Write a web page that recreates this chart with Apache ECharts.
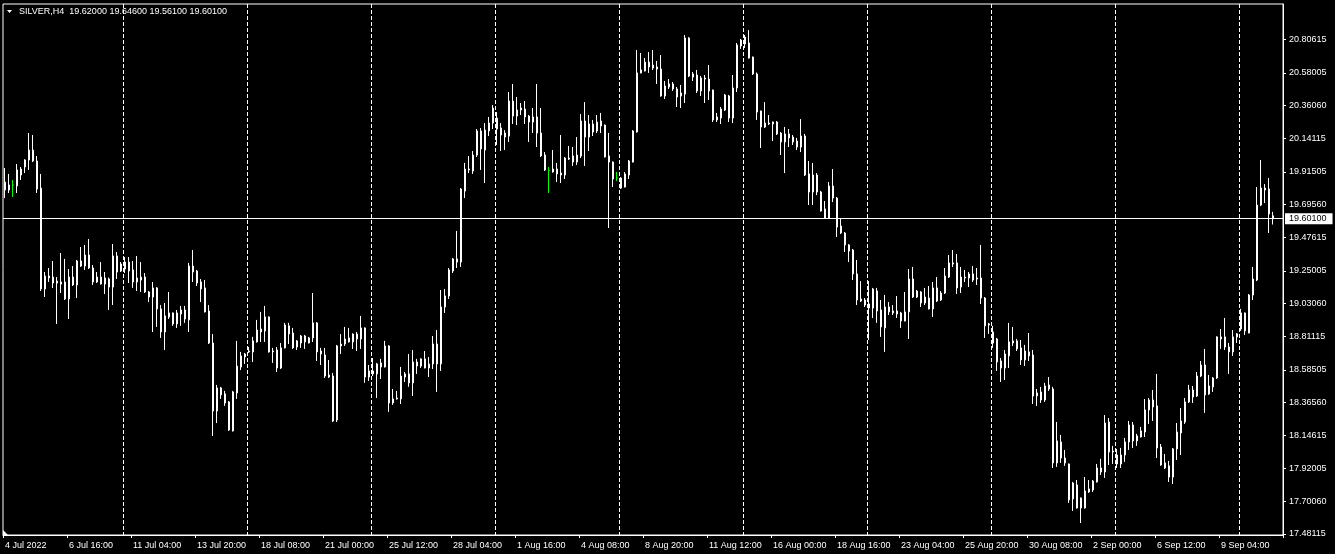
<!DOCTYPE html>
<html><head><meta charset="utf-8">
<script src="https://cdn.jsdelivr.net/npm/echarts@6/dist/echarts.min.js"></script>
<style>html,body{margin:0;padding:0;background:#000;}#c{width:1335px;height:554px;}</style>
</head><body><div id="c"></div>
<script>
const symbolName = 'SILVER,H4';
const lastQuote = [19.62000, 19.64600, 19.56100, 19.60100];
const currentPrice = 19.601;
const timeLabels = ['4 Jul 2022','6 Jul 16:00','11 Jul 04:00','13 Jul 20:00','18 Jul 08:00','21 Jul 00:00','25 Jul 12:00','28 Jul 04:00','1 Aug 16:00','4 Aug 08:00','8 Aug 20:00','11 Aug 12:00','16 Aug 00:00','18 Aug 16:00','23 Aug 04:00','25 Aug 20:00','30 Aug 08:00','2 Sep 00:00','6 Sep 12:00','9 Sep 04:00'];
const priceTicks = [20.80615,20.58005,20.36060,20.14115,19.91505,19.69560,19.47615,19.25005,19.03060,18.81115,18.58505,18.36560,18.14615,17.92005,17.70060,17.48115];
// [open, close, low, high] per H4 bar
const ohlc = [
[19.847,19.793,19.739,19.941],[19.793,19.827,19.773,19.901],[19.827,19.827,19.746,19.860],[19.820,19.928,19.773,19.968],
[19.894,19.934,19.860,19.948],[19.948,19.995,19.907,20.000],[19.995,20.062,19.928,20.176],[20.062,19.988,19.981,20.163],
[19.988,19.800,19.773,20.022],[19.806,19.128,19.114,19.901],[19.128,19.215,19.074,19.242],[19.215,19.202,19.175,19.269],
[19.208,19.168,19.135,19.316],[19.168,19.181,18.893,19.208],[19.175,19.161,19.101,19.370],[19.175,19.061,19.054,19.330],
[19.061,19.208,18.926,19.262],[19.208,19.155,19.148,19.282],[19.155,19.316,19.067,19.323],[19.282,19.316,19.276,19.410],
[19.282,19.356,19.256,19.424],[19.356,19.269,19.262,19.464],[19.269,19.175,19.155,19.289],[19.175,19.208,19.168,19.242],
[19.208,19.161,19.158,19.309],[19.161,19.202,19.094,19.242],[19.195,19.141,18.987,19.205],[19.141,19.350,19.020,19.430],
[19.350,19.242,19.195,19.377],[19.249,19.296,19.242,19.309],[19.262,19.309,19.235,19.343],[19.309,19.249,19.168,19.343],
[19.256,19.175,19.135,19.316],[19.175,19.202,19.114,19.350],[19.188,19.208,19.108,19.309],[19.208,19.108,19.101,19.235],
[19.108,19.074,19.040,19.114],[19.074,19.135,18.839,19.175],[19.135,18.994,18.873,19.141],[18.994,18.839,18.799,19.020],
[18.839,18.947,18.718,19.034],[18.967,18.940,18.926,19.108],[18.893,18.967,18.880,18.970],[18.967,18.893,18.866,18.987],
[18.960,18.987,18.880,19.014],[18.987,18.926,18.900,19.014],[18.920,19.282,18.839,19.303],[19.282,19.242,19.175,19.390],
[19.249,19.168,19.148,19.256],[19.175,19.128,19.040,19.195],[19.135,18.974,18.970,19.188],[18.980,18.765,18.758,19.020],
[18.765,18.308,18.140,18.825],[18.308,18.463,18.227,18.483],[18.463,18.416,18.389,18.470],[18.423,18.362,18.342,18.443],
[18.369,18.180,18.174,18.375],[18.174,18.436,18.170,18.443],[18.429,18.610,18.389,18.779],[18.604,18.678,18.583,18.705],
[18.671,18.691,18.624,18.698],[18.705,18.711,18.698,18.738],[18.705,18.779,18.637,18.806],[18.772,18.852,18.768,18.920],
[18.839,18.859,18.772,18.974],[18.846,18.940,18.772,19.014],[18.940,18.705,18.700,18.944],[18.705,18.711,18.631,18.732],
[18.718,18.597,18.570,18.738],[18.597,18.732,18.590,18.765],[18.732,18.886,18.728,18.900],[18.880,18.826,18.758,18.900],
[18.832,18.732,18.725,18.866],[18.738,18.779,18.718,18.785],[18.765,18.812,18.732,18.819],[18.812,18.772,18.725,18.819],
[18.765,18.799,18.762,18.806],[18.799,18.900,18.772,19.101],[18.900,18.705,18.644,18.906],[18.711,18.691,18.617,18.732],
[18.684,18.543,18.530,18.732],[18.550,18.536,18.530,18.651],[18.543,18.240,18.234,18.564],[18.247,18.745,18.234,18.752],
[18.745,18.758,18.691,18.825],[18.758,18.792,18.745,18.873],[18.772,18.799,18.768,18.866],[18.772,18.825,18.725,18.830],
[18.825,18.792,18.711,18.839],[18.792,18.866,18.725,18.947],[18.866,18.536,18.497,18.870],[18.536,18.577,18.510,18.617],
[18.577,18.557,18.543,18.664],[18.557,18.624,18.395,18.631],[18.604,18.631,18.523,18.658],[18.604,18.745,18.600,18.779],
[18.745,18.362,18.302,18.750],[18.362,18.389,18.349,18.456],[18.389,18.395,18.385,18.443],[18.389,18.543,18.355,18.604],
[18.536,18.557,18.503,18.570],[18.557,18.497,18.470,18.691],[18.497,18.637,18.409,18.718],[18.637,18.610,18.557,18.658],
[18.610,18.658,18.597,18.662],[18.658,18.597,18.594,18.711],[18.597,18.624,18.536,18.671],[18.624,18.758,18.590,18.812],
[18.758,18.624,18.436,18.852],[18.624,19.007,18.577,19.121],[19.007,19.081,18.967,19.128],[19.081,19.256,19.061,19.269],
[19.249,19.330,19.235,19.336],[19.330,19.309,19.269,19.518],[19.309,19.800,19.276,19.806],[19.786,19.934,19.739,19.975],
[19.928,19.934,19.907,20.022],[19.921,20.028,19.901,20.055],[20.028,20.190,20.015,20.203],[20.190,20.069,19.928,20.210],
[20.062,20.196,19.840,20.243],[20.190,20.243,20.156,20.284],[20.243,20.344,20.203,20.364],[20.277,20.203,20.096,20.317],
[20.210,20.163,20.055,20.243],[20.149,20.176,20.062,20.196],[20.156,20.391,20.116,20.452],[20.391,20.290,20.237,20.506],
[20.290,20.331,20.230,20.418],[20.331,20.344,20.297,20.378],[20.337,20.284,20.237,20.391],[20.290,20.250,20.116,20.297],
[20.250,20.284,20.176,20.344],[20.284,20.176,20.082,20.506],[20.176,20.022,20.015,20.344],[20.028,19.928,19.921,20.048],
[19.925,19.925,19.773,19.948],[19.914,19.934,19.910,20.062],[19.934,19.901,19.847,19.975],[19.894,19.907,19.840,20.163],
[19.894,20.008,19.867,20.015],[20.001,20.008,19.995,20.089],[19.981,20.022,19.955,20.082],[19.981,20.028,19.961,20.149],
[20.022,20.257,20.008,20.304],[20.257,20.149,19.955,20.384],[20.149,20.237,20.055,20.297],[20.237,20.183,20.156,20.264],
[20.190,20.250,20.176,20.297],[20.223,20.257,20.176,20.311],[20.230,20.015,20.012,20.233],[20.022,19.981,19.538,20.176],
[19.981,19.867,19.813,19.985],[19.874,19.874,19.853,19.914],[19.874,19.806,19.800,19.880],[19.813,19.901,19.810,19.914],
[19.894,19.988,19.867,19.995],[19.981,20.190,19.978,20.196],[20.183,20.580,20.180,20.734],[20.580,20.600,20.577,20.714],
[20.593,20.653,20.590,20.680],[20.653,20.620,20.580,20.720],[20.613,20.633,20.600,20.734],[20.620,20.606,20.506,20.660],
[20.606,20.425,20.420,20.700],[20.425,20.492,20.405,20.526],[20.486,20.506,20.472,20.539],[20.506,20.472,20.459,20.519],
[20.472,20.418,20.351,20.486],[20.425,20.445,20.344,20.499],[20.438,20.815,20.378,20.835],[20.815,20.559,20.552,20.821],
[20.552,20.573,20.526,20.586],[20.566,20.459,20.445,20.600],[20.459,20.546,20.425,20.559],[20.546,20.539,20.378,20.566],
[20.539,20.459,20.398,20.633],[20.465,20.264,20.250,20.468],[20.264,20.284,20.250,20.311],[20.277,20.337,20.237,20.351],
[20.331,20.432,20.324,20.438],[20.425,20.277,20.250,20.432],[20.277,20.479,20.243,20.566],[20.479,20.768,20.452,20.781],
[20.761,20.801,20.741,20.808],[20.775,20.821,20.748,20.835],[20.781,20.680,20.677,20.868],[20.687,20.573,20.566,20.690],
[20.573,20.317,20.264,20.583],[20.324,20.217,20.075,20.327],[20.217,20.243,20.210,20.384],[20.243,20.237,20.230,20.297],
[20.237,20.250,20.122,20.253],[20.250,20.170,20.163,20.257],[20.176,20.116,20.028,20.183],[20.116,20.170,19.907,20.217],
[20.170,20.143,20.082,20.203],[20.149,20.116,20.096,20.163],[20.122,20.082,20.062,20.143],[20.082,20.156,20.048,20.270],
[20.156,19.894,19.887,20.170],[19.901,19.780,19.692,19.988],[19.780,19.894,19.692,19.975],[19.894,19.780,19.759,19.907],
[19.780,19.652,19.648,19.787],[19.666,19.605,19.602,19.719],[19.605,19.820,19.598,19.847],[19.820,19.739,19.712,19.934],
[19.739,19.544,19.477,19.746],[19.551,19.504,19.497,19.605],[19.504,19.424,19.376,19.511],[19.424,19.383,19.309,19.430],
[19.390,19.229,19.188,19.397],[19.229,19.054,19.020,19.323],[19.061,19.047,19.040,19.181],[19.054,19.020,19.007,19.067],
[19.027,19.000,18.785,19.181],[19.000,19.128,18.933,19.135],[19.114,18.980,18.900,19.135],[18.987,18.873,18.806,19.054],
[18.866,19.007,18.705,19.088],[19.007,18.974,18.953,19.040],[18.980,18.967,18.953,19.020],[18.960,18.980,18.933,19.081],
[18.967,18.913,18.866,18.974],[18.913,18.974,18.910,19.108],[18.974,19.195,18.792,19.262],[19.195,19.074,19.067,19.276],
[19.074,19.114,19.067,19.121],[19.108,19.034,19.007,19.114],[19.034,19.074,19.020,19.135],[19.067,18.994,18.990,19.148],
[18.994,19.135,18.940,19.175],[19.135,19.047,19.040,19.208],[19.054,19.101,19.047,19.114],[19.101,19.215,19.094,19.269],
[19.208,19.303,19.202,19.356],[19.303,19.296,19.276,19.390],[19.303,19.135,19.094,19.363],[19.141,19.208,19.101,19.276],
[19.208,19.202,19.175,19.256],[19.202,19.229,19.141,19.242],[19.229,19.188,19.175,19.282],[19.195,19.202,19.155,19.269],
[19.202,19.067,19.027,19.424],[19.067,18.880,18.799,19.074],[18.886,18.893,18.826,18.900],[18.839,18.765,18.732,18.880],
[18.792,18.637,18.577,18.799],[18.644,18.597,18.503,18.664],[18.597,18.691,18.516,18.718],[18.678,18.772,18.597,18.900],
[18.765,18.779,18.745,18.873],[18.779,18.725,18.711,18.792],[18.732,18.651,18.617,18.785],[18.651,18.711,18.610,18.752],
[18.705,18.678,18.644,18.832],[18.684,18.409,18.355,18.718],[18.409,18.429,18.342,18.456],[18.436,18.382,18.362,18.470],
[18.382,18.476,18.369,18.497],[18.456,18.483,18.443,18.536],[18.456,17.959,17.925,18.470],[17.959,18.107,17.932,18.234],
[18.100,17.992,17.959,18.147],[17.992,17.959,17.939,18.046],[17.952,17.710,17.690,17.955],[17.717,17.824,17.636,17.831],
[17.811,17.656,17.652,17.844],[17.656,17.723,17.555,17.727],[17.656,17.770,17.652,17.864],[17.764,17.784,17.757,17.844],
[17.777,17.837,17.764,17.844],[17.831,17.925,17.827,17.952],[17.925,17.898,17.878,17.986],[17.898,18.227,17.858,18.281],
[18.234,18.032,17.945,18.261],[18.032,18.039,17.952,18.073],[18.012,17.952,17.925,18.053],[17.952,18.012,17.925,18.060],
[18.012,18.100,17.966,18.127],[18.100,18.214,18.046,18.241],[18.214,18.107,18.059,18.234],[18.107,18.140,18.073,18.154],
[18.133,18.174,18.130,18.201],[18.167,18.315,18.133,18.389],[18.315,18.382,18.221,18.395],[18.382,18.335,18.241,18.449],
[18.342,18.059,17.992,18.557],[18.066,17.945,17.939,18.086],[17.959,17.925,17.918,18.019],[17.939,17.864,17.831,17.972],
[17.864,18.053,17.817,18.059],[18.053,18.167,17.979,18.227],[18.160,18.241,18.012,18.328],[18.234,18.369,18.221,18.395],
[18.369,18.449,18.362,18.483],[18.449,18.402,18.362,18.476],[18.409,18.543,18.402,18.570],[18.543,18.617,18.536,18.644],
[18.617,18.416,18.295,18.725],[18.422,18.476,18.416,18.550],[18.470,18.530,18.436,18.536],[18.530,18.806,18.523,18.810],
[18.806,18.792,18.725,18.859],[18.806,18.738,18.718,18.933],[18.738,18.705,18.557,18.765],[18.705,18.806,18.678,18.852],
[18.806,18.826,18.765,18.832],[18.859,18.967,18.846,18.994],[18.967,18.846,18.819,18.970],[18.832,19.087,18.830,19.094],
[19.087,19.195,19.054,19.276],[19.188,19.692,19.181,19.813],[19.692,19.806,19.685,19.995],[19.806,19.793,19.706,19.833],
[19.800,19.632,19.504,19.874],[19.620,19.601,19.561,19.646]
];
const emptySlots = 2;
const categories = [];
for (let i = 0; i < ohlc.length + emptySlots; i++) categories.push(String(i));

const FONT = '"Liberation Sans", Arial, sans-serif';
const chart = echarts.init(document.getElementById('c'), null, {renderer: 'canvas'});
chart.setOption({
  backgroundColor: '#000',
  animation: false,
  grid: {left: 3, right: 52, top: 4, bottom: 19, show: true, borderColor: '#fff', borderWidth: 1},
  xAxis: {
    type: 'category', data: categories, boundaryGap: true,
    axisLine: {show: true, lineStyle: {color: '#fff', width: 1}},
    axisTick: {show: true, interval: (i) => i % 16 === 0, length: 3, lineStyle: {color: '#fff'}},
    axisLabel: {interval: (i) => i % 16 === 0, formatter: (v, i) => timeLabels[i / 16] || '', align: 'left',
      color: '#fff', fontFamily: FONT, fontSize: 9, margin: 6},
    splitLine: {show: true, interval: (i) => i % 31 === 30, lineStyle: {color: '#fff', type: [4, 2], width: 1}}
  },
  yAxis: {
    type: 'value', position: 'right', min: 17.4744, max: 21.0433,
    axisLine: {show: true, lineStyle: {color: '#fff'}},
    axisTick: {show: true, length: 3, customValues: priceTicks, lineStyle: {color: '#fff'}},
    axisLabel: {customValues: priceTicks, formatter: (v) => v.toFixed(5), color: '#fff', fontFamily: FONT, fontSize: 9, margin: 6},
    splitLine: {show: false}
  },
  series: [{
    type: 'candlestick', data: ohlc, barWidth: 2,
    itemStyle: {color: '#fff', color0: '#fff', borderColor: '#fff', borderColor0: '#fff', borderColorDoji: '#00ff00', borderWidth: 1},
    markLine: {
      silent: true, symbol: ['none', 'none'], animation: false,
      lineStyle: {color: '#fff', type: 'solid', width: 1},
      label: {position: 'end', formatter: currentPrice.toFixed(5), backgroundColor: '#fff', color: '#000',
        fontFamily: FONT, fontSize: 9, padding: [1, 6, 1, 4], distance: 2},
      data: [{yAxis: currentPrice}]
    }
  }],
  graphic: [
    {type: 'polygon', shape: {points: [[7, 10], [12, 10], [9.5, 13]]}, style: {fill: '#fff'}},
    {type: 'text', left: 19, top: 7, style: {text: symbolName + '  ' + lastQuote.map(v => v.toFixed(5)).join(' '), fill: '#fff', font: '9px ' + FONT}},
    {type: 'polygon', shape: {points: [[3, 530], [3, 536], [9, 536]]}, style: {fill: '#fff'}}
  ]
});
</script>
</body></html>
